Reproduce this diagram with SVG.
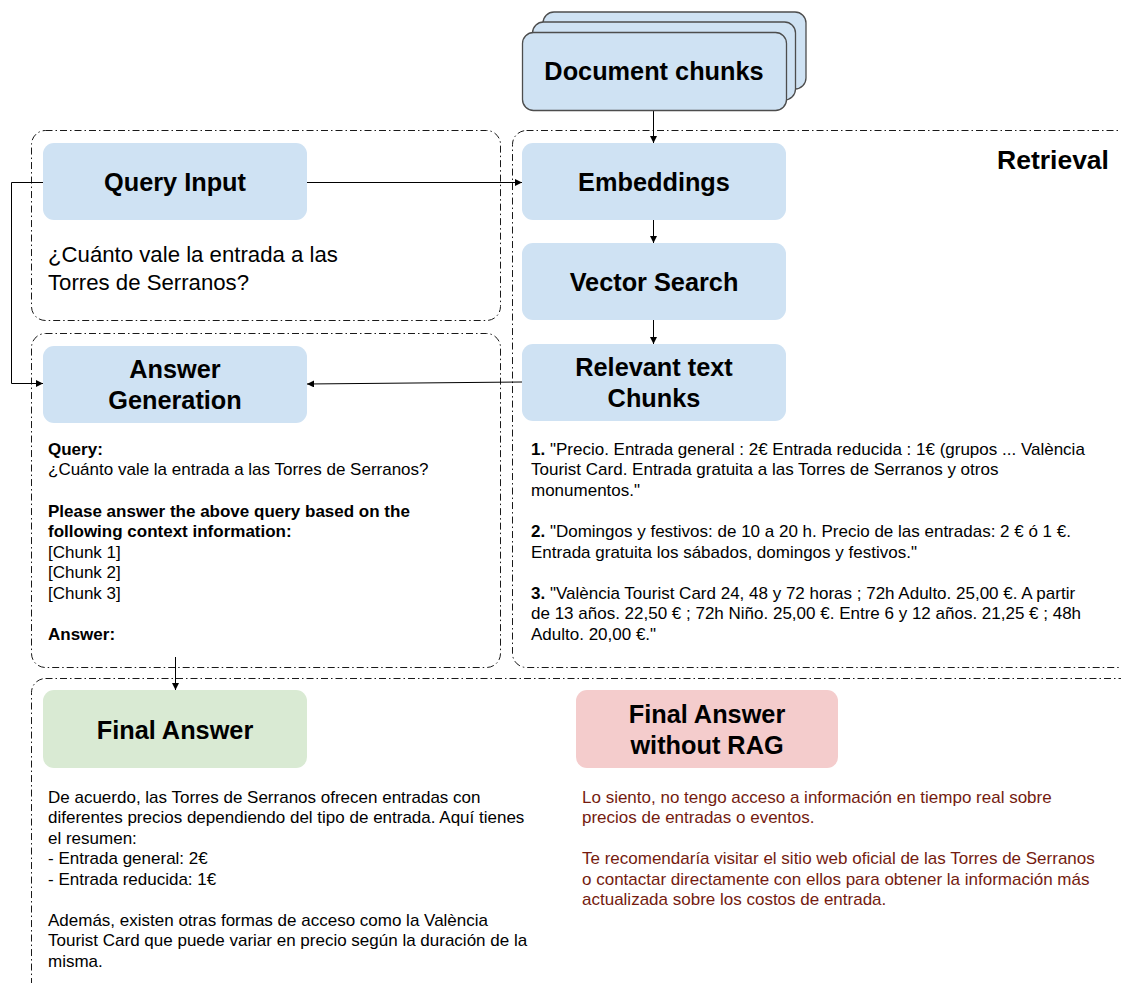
<svg xmlns="http://www.w3.org/2000/svg" width="1121" height="983" viewBox="0 0 1121 983">
  <defs>
    <marker id="arrow" viewBox="0 0 10 10" refX="10" refY="5" markerWidth="7" markerHeight="7" markerUnits="userSpaceOnUse" orient="auto">
      <path d="M0,0 L10,5 L0,10 z" fill="#000"/>
    </marker>
    <style>
      .frame { fill: none; stroke: #1a1a1a; stroke-width: 1; stroke-dasharray: 7 3 1.5 3; }
      .blue { fill: #cfe2f3; }
      .stack { fill: #cfe2f3; stroke: #4d4d4d; stroke-width: 1.3; }
      .green { fill: #d9ead3; }
      .pink { fill: #f4cccc; }
      .title { font-family: "Liberation Sans", Arial, sans-serif; font-weight: bold; font-size: 25.3px; fill: #000; text-anchor: middle; }
      .big { font-family: "Liberation Sans", Arial, sans-serif; font-size: 22.2px; fill: #000; }
      .body { font-family: "Liberation Sans", Arial, sans-serif; font-size: 17px; fill: #000; }
      .red { font-family: "Liberation Sans", Arial, sans-serif; font-size: 17px; fill: #741b0f; }
      .b { font-weight: bold; }
      .conn { fill: none; stroke: #000; stroke-width: 1; }
    </style>
  </defs>

  <rect width="1121" height="983" fill="#fff"/>

  <!-- dash-dot grouping frames -->
  <g id="frames">
    <rect class="frame" x="31.5" y="130.5" width="469" height="190" rx="14"/>
    <rect class="frame" x="31.5" y="333.5" width="469" height="334" rx="14"/>
    <rect class="frame" x="512.5" y="130.5" width="640" height="537" rx="14"/>
    <rect class="frame" x="31.5" y="678.5" width="1120" height="340" rx="14"/>
    <text class="title" x="1053" y="169" style="font-size:26.5px">Retrieval</text>
  </g>

  <!-- connectors -->
  <g id="connectors">
    <line class="conn" x1="653.5" y1="110" x2="653.5" y2="143" marker-end="url(#arrow)"/>
    <line class="conn" x1="307" y1="182.5" x2="522" y2="182.5" marker-end="url(#arrow)"/>
    <polyline class="conn" points="43,182.5 11.5,182.5 11.5,383.5 43,383.5" marker-end="url(#arrow)"/>
    <line class="conn" x1="653.5" y1="220" x2="653.5" y2="243" marker-end="url(#arrow)"/>
    <line class="conn" x1="653.5" y1="320" x2="653.5" y2="344" marker-end="url(#arrow)"/>
    <line class="conn" x1="522" y1="382" x2="307" y2="384" marker-end="url(#arrow)"/>
    <line class="conn" x1="175.5" y1="657" x2="175.5" y2="690" marker-end="url(#arrow)"/>
  </g>

  <!-- Document chunks (stacked) -->
  <g id="document-chunks">
    <rect class="stack" x="543" y="12" width="263" height="77" rx="11"/>
    <rect class="stack" x="532.5" y="22" width="263" height="78" rx="11"/>
    <rect class="stack" x="522.5" y="32.5" width="264" height="78" rx="11"/>
    <text class="title" x="654" y="80">Document chunks</text>
  </g>

  <!-- Query Input -->
  <g id="query-input">
    <rect class="blue" x="43" y="143" width="264" height="77" rx="11"/>
    <text class="title" x="175" y="191">Query Input</text>
    <text class="big" x="48" y="262">¿Cuánto vale la entrada a las</text>
    <text class="big" x="48" y="290">Torres de Serranos?</text>
  </g>

  <!-- Answer Generation -->
  <g id="answer-generation">
    <rect class="blue" x="43" y="346" width="264" height="77" rx="11"/>
    <text class="title" x="175" y="378">Answer</text>
    <text class="title" x="175" y="409">Generation</text>
    <text class="body">
      <tspan class="b" x="48" y="455">Query:</tspan>
      <tspan x="48" y="475">¿Cuánto vale la entrada a las Torres de Serranos?</tspan>
      <tspan class="b" x="48" y="517">Please answer the above query based on the</tspan>
      <tspan class="b" x="48" y="537">following context information:</tspan>
      <tspan x="48" y="558">[Chunk 1]</tspan>
      <tspan x="48" y="578">[Chunk 2]</tspan>
      <tspan x="48" y="599">[Chunk 3]</tspan>
      <tspan class="b" x="48" y="640">Answer:</tspan>
    </text>
  </g>

  <!-- Embeddings -->
  <g id="embeddings">
    <rect class="blue" x="522" y="143" width="264" height="77" rx="11"/>
    <text class="title" x="654" y="191">Embeddings</text>
  </g>

  <!-- Vector Search -->
  <g id="vector-search">
    <rect class="blue" x="522" y="243" width="264" height="77" rx="11"/>
    <text class="title" x="654" y="291">Vector Search</text>
  </g>

  <!-- Relevant text Chunks -->
  <g id="relevant-chunks">
    <rect class="blue" x="522" y="344" width="264" height="77" rx="11"/>
    <text class="title" x="654" y="376">Relevant text</text>
    <text class="title" x="654" y="407">Chunks</text>
    <text class="body">
      <tspan x="531" y="455"><tspan class="b">1.</tspan> "Precio. Entrada general : 2€ Entrada reducida : 1€ (grupos ... València</tspan>
      <tspan x="531" y="475">Tourist Card. Entrada gratuita a las Torres de Serranos y otros</tspan>
      <tspan x="531" y="496">monumentos."</tspan>
      <tspan x="531" y="537"><tspan class="b">2.</tspan> "Domingos y festivos: de 10 a 20 h. Precio de las entradas: 2 € ó 1 €.</tspan>
      <tspan x="531" y="558">Entrada gratuita los sábados, domingos y festivos."</tspan>
      <tspan x="531" y="599"><tspan class="b">3.</tspan> "València Tourist Card 24, 48 y 72 horas ; 72h Adulto. 25,00 €. A partir</tspan>
      <tspan x="531" y="619">de 13 años. 22,50 € ; 72h Niño. 25,00 €. Entre 6 y 12 años. 21,25 € ; 48h</tspan>
      <tspan x="531" y="640">Adulto. 20,00 €."</tspan>
    </text>
  </g>

  <!-- Final Answer -->
  <g id="final-answer">
    <rect class="green" x="43" y="690" width="264" height="78" rx="11"/>
    <text class="title" x="175" y="739">Final Answer</text>
    <text class="body">
      <tspan x="48" y="803">De acuerdo, las Torres de Serranos ofrecen entradas con</tspan>
      <tspan x="48" y="823">diferentes precios dependiendo del tipo de entrada. Aquí tienes</tspan>
      <tspan x="48" y="844">el resumen:</tspan>
      <tspan x="48" y="864">- Entrada general: 2€</tspan>
      <tspan x="48" y="885">- Entrada reducida: 1€</tspan>
      <tspan x="48" y="926">Además, existen otras formas de acceso como la València</tspan>
      <tspan x="48" y="946">Tourist Card que puede variar en precio según la duración de la</tspan>
      <tspan x="48" y="967">misma.</tspan>
    </text>
  </g>

  <!-- Final Answer without RAG -->
  <g id="final-answer-no-rag">
    <rect class="pink" x="576" y="690" width="262" height="78" rx="11"/>
    <text class="title" x="707" y="723">Final Answer</text>
    <text class="title" x="707" y="754">without RAG</text>
    <text class="red">
      <tspan x="582" y="803">Lo siento, no tengo acceso a información en tiempo real sobre</tspan>
      <tspan x="582" y="823">precios de entradas o eventos.</tspan>
      <tspan x="582" y="864">Te recomendaría visitar el sitio web oficial de las Torres de Serranos</tspan>
      <tspan x="582" y="885">o contactar directamente con ellos para obtener la información más</tspan>
      <tspan x="582" y="905">actualizada sobre los costos de entrada.</tspan>
    </text>
  </g>
</svg>
